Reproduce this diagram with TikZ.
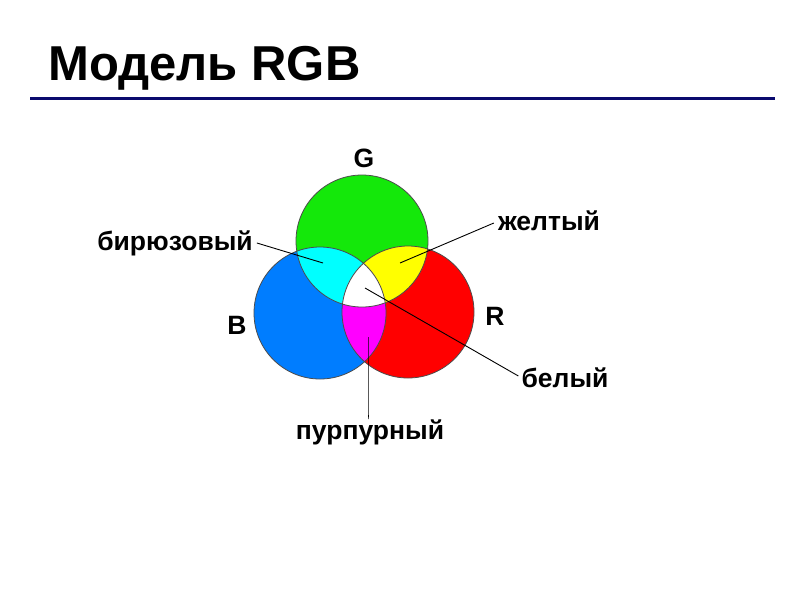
\documentclass[tikz,border=0pt]{standalone}
\usepackage{fontspec}
\setmainfont{Liberation Sans}
\begin{document}
\begin{tikzpicture}[x=1pt,y=-1pt,
  lbl/.style={font=\fontsize{26.5}{30}\selectfont\bfseries, inner sep=0pt},
  ptr/.style={draw=black, line width=0.9pt},
  rim/.style={draw=black!70, line width=0.8pt}]
\useasboundingbox[fill=white] (0,0) rectangle (800,600);
\definecolor{cG}{RGB}{20,232,10}
\definecolor{cB}{RGB}{0,125,255}
\definecolor{cR}{RGB}{255,0,0}
\definecolor{cC}{RGB}{0,255,255}
\definecolor{cY}{RGB}{255,255,0}
\definecolor{cM}{RGB}{255,0,255}
\definecolor{navy}{RGB}{10,10,110}
\def\rr{66}
\coordinate (G) at (362,241);
\coordinate (B) at (320,313);
\coordinate (R) at (408,312);
% title
\node[anchor=base west, inner sep=0pt, font=\fontsize{49}{55}\selectfont\bfseries] (title) at (48,80) {Модель RGB};
\draw[navy, line width=3pt] (30,98) coordinate (l1) -- (775,98) coordinate (l2);
% circles
\fill[cG] (G) circle (\rr);
\fill[cB] (B) circle (\rr);
\fill[cR] (R) circle (\rr);
\begin{scope}\clip (G) circle (\rr); \fill[cC] (B) circle (\rr); \fill[cY] (R) circle (\rr);\end{scope}
\begin{scope}\clip (B) circle (\rr); \fill[cM] (R) circle (\rr);\end{scope}
\begin{scope}\clip (G) circle (\rr); \clip (B) circle (\rr); \fill[white] (R) circle (\rr);\end{scope}
\draw[rim] (G) circle (\rr);
\draw[rim] (B) circle (\rr);
\draw[rim] (R) circle (\rr);
% labels
\node[lbl] (lG) at (364,158) {G};
\node[lbl] (lB) at (237,325) {B};
\node[lbl] (lR) at (495,316) {R};
\node[lbl] (cyanL) at (175,243) {бирюзовый};
\node[lbl] (yelL) at (549,221) {желтый};
\node[lbl] (whtL) at (565,378) {белый};
\node[lbl] (magL) at (370,432) {пурпурный};
% pointer ends
\coordinate (pc) at (323,263);
\coordinate (py) at (400,263);
\coordinate (pw) at (365,288);
\coordinate (pm) at (368,337);
\draw[ptr] (cyanL.east) ++(4,0) -- (pc);
\draw[ptr] (yelL.west) ++(-4,2) -- (py);
\draw[ptr] (pw) -- ([xshift=-3pt,yshift=2pt]whtL.west);
\draw[ptr] (pm) -- (pm |- magL.north) -- ++(0,-4);
\end{tikzpicture}
\end{document}
